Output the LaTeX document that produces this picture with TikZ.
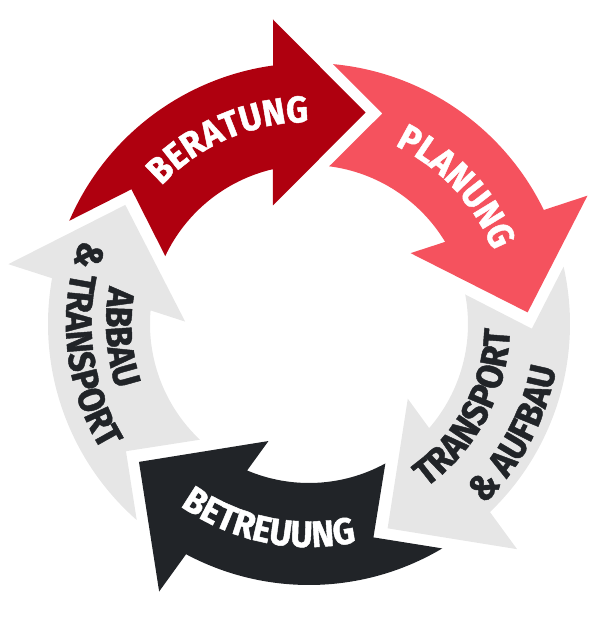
\documentclass[tikz,border=0pt]{standalone}
\usepackage{fontspec}
\usetikzlibrary{decorations.text}
\newfontfamily\arrowfont{Fira Sans}[FakeStretch=0.92,FakeBold=1.2]
\newcommand{\cyclefont}{\arrowfont\bfseries\fontsize{37}{40}\selectfont}
\definecolor{beratungred}{HTML}{AF000F}
\definecolor{planungred}{HTML}{F5525E}
\definecolor{transgray}{HTML}{E6E6E6}
\definecolor{betreuungblack}{HTML}{212428}

\begin{document}
\begin{tikzpicture}[x=1pt,y=1pt,
  curvedtext/.style={decorate,decoration={text along path,text align=center,
    text color=#1}}]
\useasboundingbox (-309,-305) rectangle (301,324);
% five arrows, each turned by 72 degrees
\foreach \col [count=\i from 0] in {beratungred,planungred,transgray,betreuungblack,transgray}{
  \begin{scope}[rotate=-72*\i]
  \fill[\col] (156.7:261) -- (142.8:222.9) -- (154.7:159)
    arc[start angle=154.7,end angle=103.1,radius=159pt] -- (-36,118.5)
    -- (56.5,211.5) -- (-36,304.5) -- (97.9:261)
    arc[start angle=97.9,end angle=156.7,radius=261pt] -- cycle;
  \end{scope}
}
% labels along the arcs
\path[curvedtext=white,decoration={text={|\cyclefont|BERATUNG}}]
  (150:202) arc[start angle=150,end angle=77,radius=202pt];
\path[curvedtext=white,decoration={text={|\cyclefont|PLANUNG}}]
  (80:198) arc[start angle=80,end angle=6,radius=198pt];
\path[curvedtext=betreuungblack,decoration={text={|\cyclefont|TRANSPORT}}]
  (-68:201) arc[start angle=-68,end angle=12,radius=201pt];
\path[curvedtext=betreuungblack,decoration={text={|\cyclefont|{\&} AUFBAU}}]
  (-68:251) arc[start angle=-68,end angle=12,radius=251pt];
\path[curvedtext=white,decoration={text={|\cyclefont|BETREUUNG}}]
  (-140:223) arc[start angle=-140,end angle=-63,radius=223pt];
\path[curvedtext=betreuungblack,decoration={text={|\cyclefont|ABBAU}}]
  (145:203) arc[start angle=145,end angle=223,radius=203pt];
\path[curvedtext=betreuungblack,decoration={text={|\cyclefont|{\&} TRANSPORT}}]
  (145:243) arc[start angle=145,end angle=226,radius=243pt];
\end{tikzpicture}
\end{document}
